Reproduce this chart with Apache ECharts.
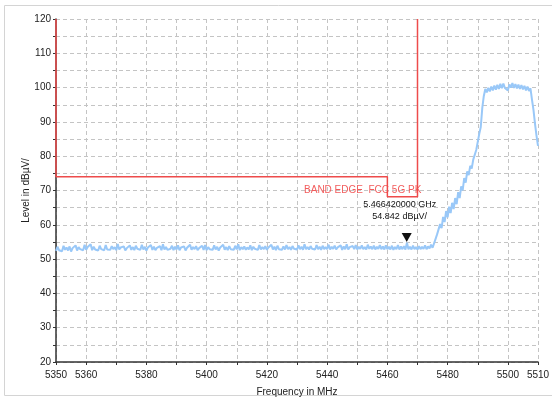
<!DOCTYPE html>
<html>
<head>
<meta charset="utf-8">
<script src="https://cdn.jsdelivr.net/npm/echarts@6/dist/echarts.min.js"></script>
<style>
  html, body { margin: 0; padding: 0; background: #fff; }
  #chart { width: 552px; height: 398px; }
</style>
</head>
<body>
<div id="chart"></div>
<script>
// trace: level in dBuV/ read every 0.5 MHz from 5350 to 5510
var startMHz = 5350;
var stepMHz = 0.5;
var level = [
  // 5350 - 5469.5 (noise floor)
  52.4, 53.6, 52.6, 53.1, 52.3, 53.9, 52.7, 53.4, 52.5, 53.7, 52.2, 53.2, 52.8, 54.0, 52.5, 53.5, 52.9, 53.3, 52.6, 54.2,
  52.7, 53.5, 53.0, 54.3, 52.6, 53.6, 52.8, 53.2, 52.5, 53.9, 52.9, 53.4, 52.6, 54.1, 52.8, 53.3, 52.7, 53.8, 52.9, 53.5,
  52.6, 54.4, 52.8, 53.4, 53.0, 53.7, 52.5, 53.2, 52.9, 54.0, 52.7, 53.5, 52.6, 53.9, 53.0, 53.3, 52.7, 54.2, 52.8, 53.6,
  52.5, 53.4, 52.9, 54.1, 52.7, 53.6, 52.6, 53.3, 52.9, 53.8, 52.6, 54.3, 52.8, 53.5, 52.7, 53.2, 53.0, 53.9, 52.6, 53.6,
  52.8, 54.0, 52.6, 53.4, 52.9, 53.7, 52.5, 53.3, 52.8, 54.2, 52.7, 53.5, 52.9, 53.8, 52.6, 53.2, 52.8, 53.9, 52.7, 54.1,
  52.6, 53.5, 52.9, 53.3, 52.7, 54.0, 52.8, 53.6, 52.5, 53.4, 52.9, 54.2, 52.7, 53.5, 52.6, 53.8, 52.9, 53.3, 52.7, 53.9,
  52.8, 54.3, 52.6, 53.5, 52.9, 53.7, 52.7, 53.4, 52.8, 54.0, 52.6, 53.6, 53.0, 53.3, 52.7, 54.1, 52.8, 53.5, 52.9, 53.8,
  52.7, 53.4, 52.9, 54.2, 52.8, 53.6, 52.6, 53.9, 52.9, 53.3, 52.7, 53.7, 52.8, 54.1, 52.9, 53.5, 52.7, 53.8, 53.0, 53.4,
  52.8, 54.0, 52.9, 53.6, 52.7, 54.3, 52.9, 53.5, 52.8, 53.8, 53.0, 53.4, 52.8, 54.1, 52.9, 53.6, 52.7, 53.9, 52.9, 53.5,
  52.9, 54.2, 52.8, 53.6, 53.0, 53.9, 52.8, 53.4, 52.9, 54.0, 52.7, 53.7, 52.9, 54.3, 52.8, 53.5, 53.0, 53.8, 52.9, 54.1,
  52.8, 53.6, 53.0, 54.0, 52.9, 53.5, 52.8, 54.2, 53.0, 53.7, 52.9, 53.9, 52.8, 53.6, 53.0, 54.1, 52.9, 53.7, 52.8, 54.0,
  52.9, 53.6, 52.8, 53.9, 52.7, 53.5, 52.9, 54.1, 52.8, 53.7, 52.9, 53.8, 52.8, 54.8, 52.9, 53.6, 52.8, 53.9, 52.9, 53.5,
  // 5470 - 5475.5
  52.8, 53.8, 52.9, 53.6, 53.0, 54.0, 52.9, 53.7, 53.1, 54.2, 53.3, 54.6,
  // 5476 - 5491.5 (rising edge)
  54.5, 57.2, 56.8, 60.2, 59.0, 62.3, 60.8, 64.0, 62.2, 65.3, 63.4, 66.4, 64.6, 67.8, 66.0, 69.5,
  67.8, 71.2, 70.0, 73.6, 72.3, 75.6, 74.5, 77.2, 76.4, 79.0, 78.6, 81.8, 82.0, 86.5, 88.5, 94.0,
  // 5492 - 5507.5 (channel)
  97.5, 99.6, 98.6, 99.9, 98.9, 100.3, 99.2, 100.6, 99.4, 100.8, 99.6, 101.1, 99.8, 101.2, 99.9, 100.4,
  99.2, 100.9, 100.0, 101.3, 99.9, 101.0, 99.8, 100.9, 99.6, 100.7, 99.5, 100.5, 99.2, 100.3, 99.0, 99.8,
  // 5508 - 5510
  96.5, 93.5, 89.5, 86.0, 83.0
];

// FCC band edge limit line (MHz, dBuV/)
var limitFreq = [5350, 5350, 5460, 5460, 5470, 5470];
var limitLevel = [120, 74, 74, 68.2, 68.2, 120];

// marker
var markerFreq = 5466.42;
var markerLevel = 54.842;
var markerText = ['5.466420000 GHz', '54.842 dBµV/'];
var limitName = 'BAND EDGE  FCC 5G PK';

var xLabels = [5350, 5360, 5380, 5400, 5420, 5440, 5460, 5480, 5500, 5510];
var yLabels = [20, 30, 40, 50, 60, 70, 80, 90, 100, 110, 120];

var traceData = [];
for (var i = 0; i < level.length; i++) {
    traceData.push([startMHz + i * stepMHz, level[i]]);
}
var limitData = [];
for (var j = 0; j < limitFreq.length; j++) {
    limitData.push([limitFreq[j], limitLevel[j]]);
}

var chart = echarts.init(document.getElementById('chart'));

chart.setOption({
    animation: false,
    textStyle: { fontFamily: 'Liberation Sans, Arial, sans-serif' },
    graphic: [
        {
            type: 'rect',
            shape: { x: 4.5, y: 5.5, width: 600, height: 390 },
            style: { fill: 'none', stroke: '#d4d4d4', lineWidth: 1 },
            silent: true
        }
    ],
    grid: { left: 56, right: 14, top: 19, bottom: 36, containLabel: false, outerBoundsMode: 'none' },
    xAxis: {
        type: 'value',
        min: 5350,
        max: 5510,
        interval: 10,
        name: 'Frequency in MHz',
        nameLocation: 'middle',
        nameGap: 25,
        nameMoveOverlap: false,
        nameTextStyle: { color: '#222', fontSize: 10 },
        axisLine: { onZero: false, lineStyle: { color: '#333', width: 1.5 } },
        axisTick: { show: true, length: 3, lineStyle: { color: '#333' } },
        axisLabel: {
            color: '#222',
            fontSize: 10,
            margin: 8,
            showMinLabel: true,
            showMaxLabel: true,
            formatter: function (v) {
                return xLabels.indexOf(Math.round(v)) >= 0 ? String(Math.round(v)) : '';
            }
        },
        splitLine: { show: true, lineStyle: { color: '#c4c4c4', type: [4, 3], width: 1 } }
    },
    yAxis: {
        type: 'value',
        min: 20,
        max: 120,
        interval: 5,
        name: 'Level in dBµV/',
        nameLocation: 'middle',
        nameGap: 25,
        nameMoveOverlap: false,
        nameTextStyle: { color: '#222', fontSize: 10 },
        axisLine: { show: true, lineStyle: { color: '#333', width: 1.5 } },
        axisTick: { show: true, length: 3, lineStyle: { color: '#333' } },
        axisLabel: {
            color: '#222',
            fontSize: 10,
            margin: 5,
            formatter: function (v) {
                return yLabels.indexOf(Math.round(v)) >= 0 ? String(Math.round(v)) : '';
            }
        },
        splitLine: { show: true, lineStyle: { color: '#c4c4c4', type: [4, 3], width: 1 } }
    },
    series: [
        {
            name: 'trace',
            type: 'line',
            data: traceData,
            showSymbol: false,
            symbol: 'none',
            sampling: null,
            lineStyle: { color: '#99c8f8', width: 2 },
            z: 2,
            markPoint: {
                symbol: 'triangle',
                symbolRotate: 180,
                symbolSize: [10, 9],
                symbolOffset: [0, -5],
                itemStyle: { color: '#111' },
                label: {
                    show: true,
                    position: 'top',
                    distance: 10,
                    offset: [-7, 0],
                    color: '#111',
                    fontSize: 9,
                    lineHeight: 12,
                    align: 'center',
                    formatter: markerText.join('\n')
                },
                data: [{ coord: [markerFreq, markerLevel] }]
            }
        },
        {
            name: 'limit',
            type: 'line',
            data: limitData,
            showSymbol: false,
            symbol: 'none',
            lineStyle: { color: '#ee4b4b', width: 1.5 },
            z: 5,
            markPoint: {
                symbol: 'rect',
                symbolSize: 0,
                label: {
                    show: true,
                    position: 'inside',
                    color: '#f25c5c',
                    fontSize: 10,
                    formatter: limitName
                },
                data: [{ coord: [5451.8, 70.1] }]
            }
        }
    ]
});
</script>
</body>
</html>
